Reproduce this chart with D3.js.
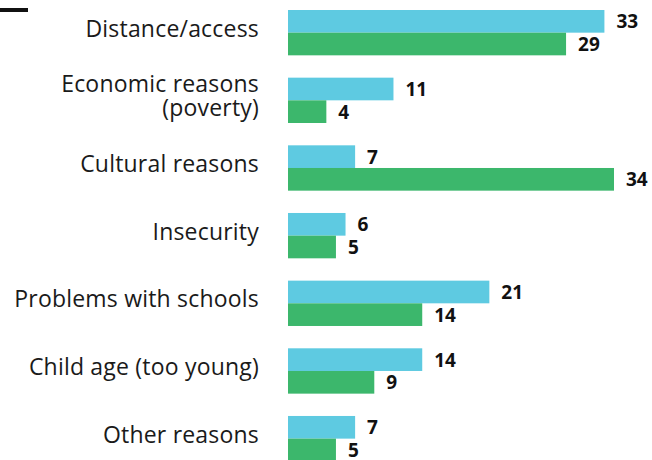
<!doctype html>
<html lang="en">
<head>
  <meta charset="utf-8">
  <script src="https://cdnjs.cloudflare.com/ajax/libs/d3/7.8.5/d3.min.js"></script>
  <style>
    html, body {margin:0px; padding:0px; background:#fff;}
    .label {font-family: "Open Sans", sans-serif; font-size:23px; fill:#1a1a1a; letter-spacing:0.2px;}
    .value {font-family: "Open Sans", sans-serif; font-size:19px; font-weight:700; fill:#111;}
  </style>
</head>
<body>
<div id="view"></div>
<script>
  // reasons (one label line per array entry)
  var categories = [
    ["Distance/access"],
    ["Economic reasons", "(poverty)"],
    ["Cultural reasons"],
    ["Insecurity"],
    ["Problems with schools"],
    ["Child age (too young)"],
    ["Other reasons"]
  ];
  var seriesNames = ["first", "second"];
  var firstValues  = [33, 11, 7, 6, 21, 14, 7];
  var secondValues = [29, 4, 34, 5, 14, 9, 5];
  var colors = ["#5ecae1", "#3cb76c"];

  var width = 652, height = 460;

  var svg = d3.select("#view").append("svg")
      .attr("width", width)
      .attr("height", height);

  // little black rule top-left
  svg.append("rect")
      .attr("x", 0).attr("y", 8)
      .attr("width", 28).attr("height", 4)
      .attr("fill", "#111");

  var idx = d3.range(categories.length);

  var y = d3.scaleBand()
      .domain(idx)
      .range([10, 461.3])
      .paddingInner(0.33)
      .paddingOuter(0)
      .align(0);

  var ySub = d3.scaleBand()
      .domain(seriesNames)
      .range([0, y.bandwidth()]);

  var x = d3.scaleLinear()
      .domain([0, 34])
      .range([288, 614]);

  var rows = idx.map(function(i){
    return {i: i, vals: [firstValues[i], secondValues[i]]};
  });

  var group = svg.selectAll("g.row").data(rows).enter().append("g")
      .attr("class", "row")
      .attr("transform", function(d){ return "translate(0," + y(d.i) + ")"; });

  group.selectAll("rect").data(function(d){
      return d.vals.map(function(v, k){ return {v: v, s: seriesNames[k], k: k}; });
    }).enter().append("rect")
      .attr("x", x(0))
      .attr("y", function(d){ return ySub(d.s); })
      .attr("width", function(d){ return x(d.v) - x(0); })
      .attr("height", ySub.bandwidth())
      .attr("fill", function(d){ return colors[d.k]; });

  group.selectAll("text.value").data(function(d){
      return d.vals.map(function(v, k){ return {v: v, s: seriesNames[k]}; });
    }).enter().append("text")
      .attr("class", "value")
      .attr("x", function(d){ return x(d.v) + 12; })
      .attr("y", function(d){ return ySub(d.s) + ySub.bandwidth() / 2; })
      .attr("dominant-baseline", "central")
      .text(function(d){ return d.v; });

  // category labels, roughly centred on the pair of bars
  var lineH = 24;
  group.append("text")
      .attr("class", "label")
      .attr("text-anchor", "end")
      .each(function(d){
        var lines = categories[d.i];
        var t = d3.select(this);
        var y0 = y.bandwidth() / 2 + 4 - (lines.length - 1) * lineH / 2;
        lines.forEach(function(l, j){
          t.append("tspan")
            .attr("x", 259)
            .attr("y", y0 + j * lineH)
            .text(l);
        });
      });
</script>
</body>
</html>
